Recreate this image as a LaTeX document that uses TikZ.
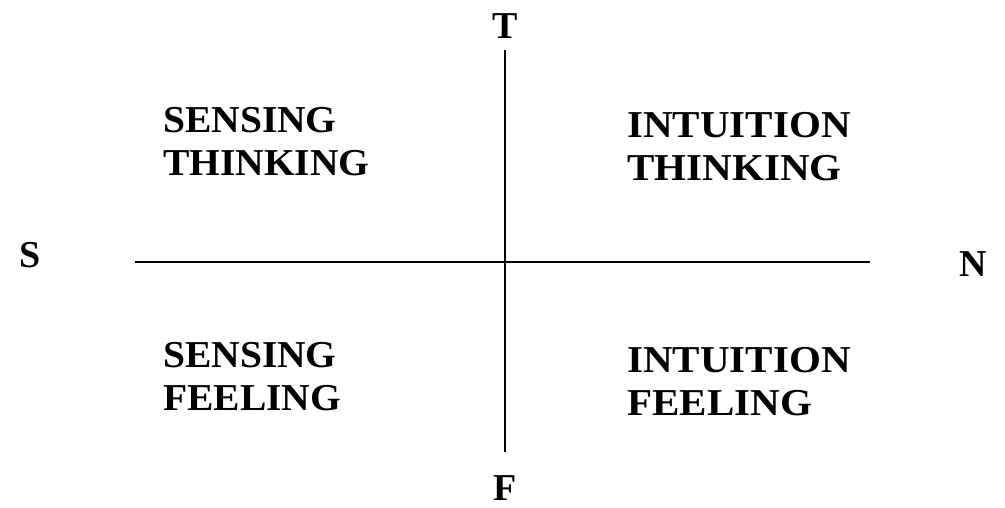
\documentclass[tikz,border=0pt]{standalone}
\usepackage{fontspec}
\setmainfont{Liberation Serif}
\begin{document}
\begin{tikzpicture}[x=1pt,y=-1pt,
  lbl/.style={font=\fontsize{38}{43}\selectfont\bfseries, inner sep=0pt, align=left},
  pole/.style={font=\fontsize{38}{43}\selectfont\bfseries, inner sep=0pt},
  axis/.style={line width=1.8pt}]
\useasboundingbox (0,0) rectangle (1005,508);
\node[pole] (T) at (505,26) {T};
\node[pole] (F) at (505,488) {F};
\node[pole] (S) at (30,255) {S};
\node[pole] (N) at (973,264) {N};
\coordinate (vt) at (505,50);
\coordinate (vb) at (505,452);
\coordinate (hl) at (135,262);
\coordinate (hr) at (870,262);
\draw[axis] (vt) -- (vb);
\draw[axis] (hl) -- (hr);
\node[lbl, anchor=north west, xscale=1.04] (st) at (163,107) {SENSING\\THINKING};
\node[lbl, anchor=north west, xscale=1.08] (it) at (627,112) {INTUITION\\THINKING};
\node[lbl, anchor=north west, xscale=1.04] (sf) at (163,342) {SENSING\\FEELING};
\node[lbl, anchor=north west, xscale=1.08] (if) at (627,347) {INTUITION\\FEELING};
\end{tikzpicture}
\end{document}
